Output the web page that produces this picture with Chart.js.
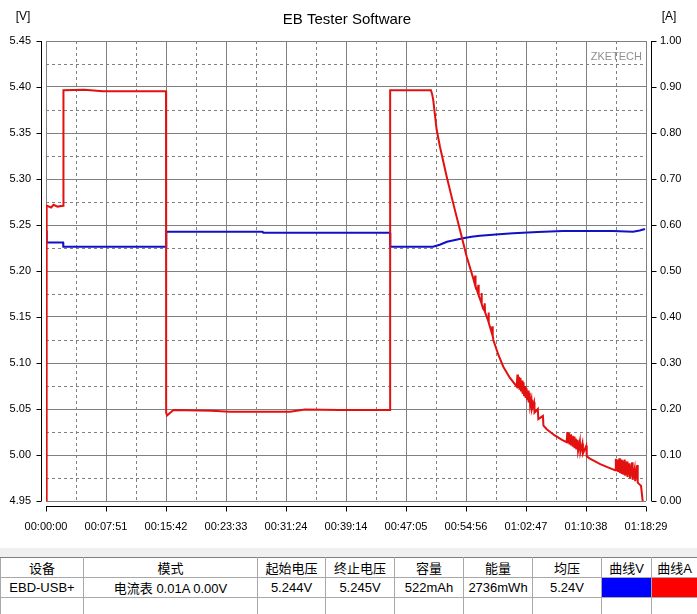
<!DOCTYPE html>
<html>
<head>
<meta charset="utf-8">
<script src="https://cdn.jsdelivr.net/npm/chart.js@4"></script>
<style>
  body { margin: 0; background: #fff; font-family: "Liberation Sans", Arial, sans-serif; }
  .chart-box { position: relative; width: 697px; height: 548px; }
  .band { height: 9px; background: #f0f0f0; }
  table { border-collapse: collapse; table-layout: fixed; width: 697px; font-family: "Liberation Sans", "Noto Sans CJK SC", sans-serif; font-size: 13px; }
  td { border: 1px solid #a8a8a8; text-align: center; padding: 0; white-space: nowrap; overflow: hidden; }
  tr.head td { height: 19px; border-top: 1px solid #808080; }
  tr.row td { height: 17px; }
</style>
</head>
<body>
<div class="chart-box"><canvas id="eb-chart"></canvas></div>
<div class="band"></div>
<table id="info"></table>
<script>
// time in seconds from start of log
const timeLabels = ['00:00:00', '00:07:51', '00:15:42', '00:23:33', '00:31:24', '00:39:14',
  '00:47:05', '00:54:56', '01:02:47', '01:10:38', '01:18:29'];
const totalSeconds = 4709;

const voltTicks = [4.95, 5.00, 5.05, 5.10, 5.15, 5.20, 5.25, 5.30, 5.35, 5.40, 5.45];
const ampTicks = [0.0, 0.1, 0.2, 0.3, 0.4, 0.5, 0.6, 0.7, 0.8, 0.9, 1.0];

// voltage [V]
const voltTime = [0, 5, 40, 134, 136, 500, 942, 944, 1300, 1700, 1705, 2200, 2700, 2702,
  3037, 3090, 3147, 3210, 3273, 3340, 3406, 3530, 3665, 3860, 4057, 4250, 4450, 4607, 4660, 4701];
const voltValues = [5.244, 5.231, 5.231, 5.231, 5.2264, 5.2264, 5.2264, 5.2427, 5.2427, 5.2427, 5.2416, 5.2416, 5.2416, 5.2264,
  5.2264, 5.2285, 5.2318, 5.2338, 5.2355, 5.2372, 5.2384, 5.2398, 5.2410, 5.2425, 5.2435, 5.2435, 5.2435, 5.2427, 5.2440, 5.2457];

// current [A]
const currTime = [0, 5, 40, 60, 90, 136, 137, 300, 447, 700, 942, 943, 950, 1000, 1300, 1444, 1915, 2033, 2300, 2700, 2701,
  3021, 3030, 3039, 3066, 3092, 3145, 3196, 3249, 3302, 3353,
  3365, 3368, 3371, 3390, 3393, 3396, 3415, 3418, 3421, 3440, 3443, 3446, 3470, 3473, 3476, 3500, 3503, 3506,
  3511, 3550, 3589, 3640,
  3694, 3700, 3704, 3712, 3716, 3724, 3728, 3736, 3740, 3748, 3752, 3760, 3764, 3772, 3776, 3784, 3788, 3796, 3800,
  3810, 3814, 3830, 3834, 3860, 3864, 3900, 3904, 3930,
  3990, 4050,
  4086, 4092, 4096, 4104, 4108, 4116, 4120, 4130, 4134, 4144, 4148, 4158, 4162, 4172, 4176, 4190, 4194, 4210, 4214, 4240, 4244, 4269,
  4350, 4420,
  4466, 4472, 4476, 4486, 4490, 4500, 4504, 4514, 4518, 4528, 4532, 4542, 4546, 4560, 4564, 4580, 4584, 4600, 4604, 4620, 4624, 4640, 4644,
  4662, 4670, 4683];
const currValues = [0, 0.642, 0.638, 0.644, 0.640, 0.642, 0.893, 0.894, 0.891, 0.891, 0.891, 0.192, 0.186, 0.198, 0.196, 0.194, 0.194, 0.199, 0.198, 0.198, 0.893,
  0.893, 0.885, 0.872, 0.807, 0.770, 0.705, 0.647, 0.589, 0.531, 0.484,
  0.472, 0.49, 0.468, 0.452, 0.47, 0.447, 0.432, 0.452, 0.428, 0.414, 0.43, 0.41, 0.392, 0.41, 0.388, 0.364, 0.38, 0.36,
  0.350, 0.318, 0.292, 0.268,
  0.249, 0.275, 0.246, 0.27, 0.242, 0.268, 0.238, 0.262, 0.233, 0.258, 0.228, 0.25, 0.224, 0.245, 0.219, 0.24, 0.214, 0.235, 0.206,
  0.22, 0.2, 0.215, 0.192, 0.2, 0.178, 0.185, 0.164, 0.156,
  0.143, 0.133,
  0.128, 0.15, 0.126, 0.148, 0.123, 0.145, 0.121, 0.142, 0.118, 0.14, 0.115, 0.136, 0.112, 0.133, 0.109, 0.13, 0.106, 0.125, 0.103, 0.12, 0.097, 0.092,
  0.08, 0.072,
  0.067, 0.092, 0.065, 0.09, 0.063, 0.093, 0.061, 0.09, 0.059, 0.088, 0.057, 0.09, 0.055, 0.086, 0.052, 0.082, 0.049, 0.084, 0.046, 0.07, 0.043, 0.078, 0.04,
  0.035, 0.033, 0];

const tableHeaders = ['设备', '模式', '起始电压', '终止电压', '容量', '能量', '均压', '曲线V', '曲线A'];
const tableRow = ['EBD-USB+', '电流表  0.01A  0.00V', '5.244V', '5.245V', '522mAh', '2736mWh', '5.24V', '', ''];
const colWidths = [83, 174, 68, 69, 69, 69, 69, 50, 46];

const zip = (xs, ys) => xs.map((x, i) => ({ x: x, y: ys[i] }));

const decor = {
  id: 'decor',
  beforeDatasetsDraw(chart) {
    const { ctx, chartArea: a, scales } = chart;
    ctx.save();
    ctx.strokeStyle = '#808080';
    ctx.lineWidth = 1;
    ctx.setLineDash([3, 3]);
    for (let i = 0; i < 10; i++) {
      const x = Math.round(scales.x.getPixelForValue((i + 0.5) * totalSeconds / 10)) + 0.5;
      ctx.beginPath(); ctx.moveTo(x, a.top); ctx.lineTo(x, a.bottom); ctx.stroke();
      const y = Math.round(scales.y.getPixelForValue(voltTicks[i] + 0.025)) + 0.5;
      ctx.beginPath(); ctx.moveTo(a.left, y); ctx.lineTo(a.right, y); ctx.stroke();
    }
    ctx.restore();
  },
  afterDraw(chart) {
    const { ctx, chartArea: a, scales } = chart;
    ctx.save();
    ctx.strokeStyle = '#000';
    ctx.lineWidth = 1;
    // left axis
    const lx = a.left - 4.5;
    ctx.beginPath(); ctx.moveTo(lx, a.top); ctx.lineTo(lx, a.bottom); ctx.stroke();
    voltTicks.forEach(v => {
      const y = Math.round(scales.y.getPixelForValue(v)) + 0.5;
      ctx.beginPath(); ctx.moveTo(lx - 5, y); ctx.lineTo(lx, y); ctx.stroke();
    });
    // right axis
    const rx = a.right + 5.5;
    ctx.beginPath(); ctx.moveTo(rx, a.top); ctx.lineTo(rx, a.bottom); ctx.stroke();
    ampTicks.forEach(v => {
      const y = Math.round(scales.y1.getPixelForValue(v)) + 0.5;
      ctx.beginPath(); ctx.moveTo(rx, y); ctx.lineTo(rx + 5, y); ctx.stroke();
    });
    // bottom axis
    const by = a.bottom + 5.5;
    ctx.beginPath(); ctx.moveTo(a.left, by); ctx.lineTo(a.right, by); ctx.stroke();
    timeLabels.forEach((l, i) => {
      const x = Math.round(scales.x.getPixelForValue(i * totalSeconds / 10)) + 0.5;
      ctx.beginPath(); ctx.moveTo(x, by); ctx.lineTo(x, by + 5); ctx.stroke();
    });
    // texts
    ctx.fillStyle = '#000';
    ctx.textBaseline = 'middle';
    ctx.textAlign = 'center';
    ctx.font = '15px "Liberation Sans", Arial, sans-serif';
    ctx.fillText('EB Tester Software', 347, 20);
    ctx.font = '12px "Liberation Sans", Arial, sans-serif';
    ctx.fillText('[V]', 23, 17);
    ctx.fillText('[A]', 669, 17);
    ctx.fillStyle = '#909090';
    ctx.textAlign = 'right';
    ctx.font = '11px "Liberation Sans", Arial, sans-serif';
    ctx.fillText('ZKETECH', a.right - 4, 57);
    ctx.restore();
  }
};

const tickFont = { family: '"Liberation Sans", Arial, sans-serif', size: 11 };

new Chart(document.getElementById('eb-chart'), {
  type: 'line',
  data: {
    datasets: [{
      label: 'A',
      data: zip(currTime, currValues),
      yAxisID: 'y1',
      borderColor: '#e31010',
      borderWidth: 2,
      pointRadius: 0,
      tension: 0,
      order: 0
    }, {
      label: 'V',
      data: zip(voltTime, voltValues),
      yAxisID: 'y',
      borderColor: '#1010c8',
      borderWidth: 2,
      pointRadius: 0,
      tension: 0,
      order: 1
    }]
  },
  options: {
    responsive: true,
    maintainAspectRatio: false,
    animation: false,
    layout: { padding: { top: 41, left: 0, right: 0, bottom: 0 } },
    plugins: { legend: { display: false }, tooltip: { enabled: false } },
    scales: {
      x: {
        type: 'linear',
        min: 0,
        max: totalSeconds,
        afterBuildTicks: s => { s.ticks = timeLabels.map((l, i) => ({ value: i * totalSeconds / 10 })); },
        afterFit: s => { s.height = 47; },
        ticks: { autoSkip: false, maxRotation: 0, padding: 19, color: '#000', font: tickFont,
          callback: (v, i) => timeLabels[i] },
        grid: { color: '#808080', drawTicks: false },
        border: { display: false }
      },
      y: {
        position: 'left',
        min: 4.95,
        max: 5.45,
        afterBuildTicks: s => { s.ticks = voltTicks.map(v => ({ value: v })); },
        afterFit: s => { s.width = 46; },
        ticks: { padding: 15, color: '#000', font: tickFont, callback: v => v.toFixed(2) },
        grid: { color: '#808080', drawTicks: false },
        border: { display: false }
      },
      y1: {
        position: 'right',
        min: 0,
        max: 1,
        afterBuildTicks: s => { s.ticks = ampTicks.map(v => ({ value: v })); },
        afterFit: s => { s.width = 51; },
        ticks: { padding: 14, color: '#000', font: tickFont, callback: v => v.toFixed(2) },
        grid: { drawOnChartArea: false, drawTicks: false },
        border: { display: false }
      }
    }
  },
  plugins: [decor]
});

// info table under the chart
const table = document.getElementById('info');
const cg = document.createElement('colgroup');
colWidths.forEach(w => { const c = document.createElement('col'); c.style.width = w + 'px'; cg.appendChild(c); });
table.appendChild(cg);
[tableHeaders, tableRow, tableHeaders.map(() => '')].forEach((cells, r) => {
  const tr = document.createElement('tr');
  tr.className = r === 0 ? 'head' : 'row';
  cells.forEach((c, i) => {
    const td = document.createElement('td');
    td.textContent = c;
    if (r === 1 && i === 7) td.style.background = '#0000ff';
    if (r === 1 && i === 8) td.style.background = '#ff0000';
    tr.appendChild(td);
  });
  table.appendChild(tr);
});
</script>
</body>
</html>
